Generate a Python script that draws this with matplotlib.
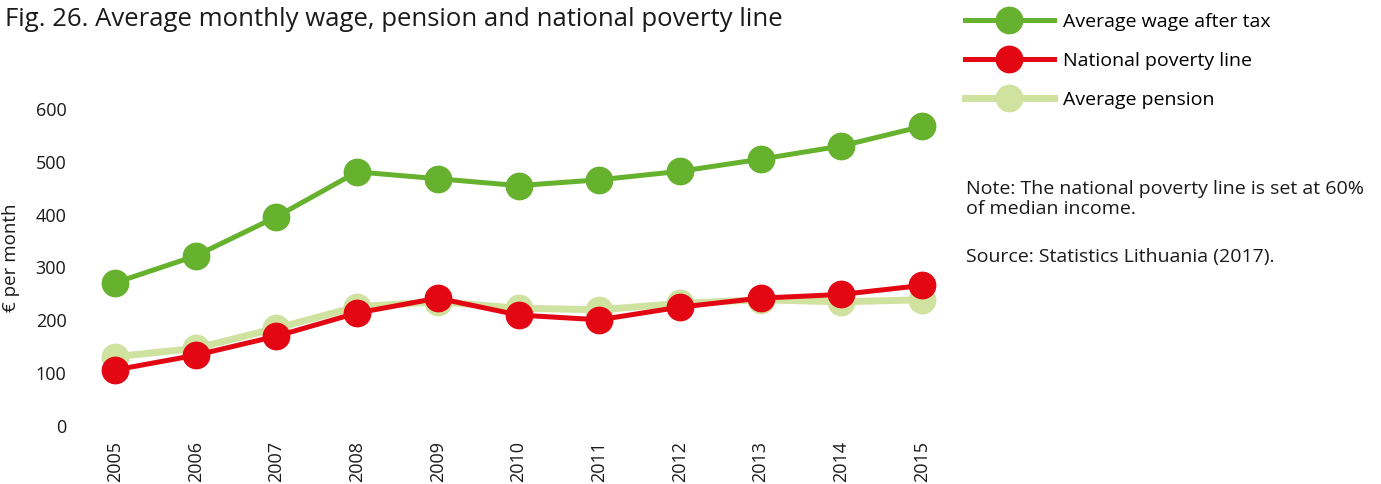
import matplotlib
matplotlib.use("Agg")
import matplotlib.pyplot as plt

plt.rcParams['font.family'] = ['Open Sans', 'DejaVu Sans']

years = [2005, 2006, 2007, 2008, 2009, 2010, 2011, 2012, 2013, 2014, 2015]
wage = [271, 322, 396, 481, 468, 455, 466, 482, 505, 530, 567]
poverty = [106, 134, 170, 214, 242, 210, 201, 225, 242, 249, 266]
pension = [131, 147, 185, 226, 235, 223, 220, 232, 239, 235, 239]

green = '#66b22e'
red = '#e30613'
pale = '#cfe2a0'
txt = '#1a1a1a'

fig = plt.figure(figsize=(13.81, 4.84), dpi=100)
ax = fig.add_axes([115/1381, 1 - 426/484, (922 - 115)/1381, (426 - 109)/484])

ax.plot(years, wage, '-o', color=green, lw=3.6, ms=19, clip_on=False,
        label='Average wage after tax', zorder=4)
ax.plot(years, pension, '-o', color=pale, lw=5, ms=19, clip_on=False,
        label='Average pension', zorder=2)
ax.plot(years, poverty, '-o', color=red, lw=3.6, ms=19, clip_on=False,
        label='National poverty line', zorder=3)

ax.set_xlim(2005, 2015)
ax.set_ylim(0, 600)
ax.set_yticks(range(0, 601, 100))
ax.set_xticks(years)
ax.set_xticklabels([str(y) for y in years], rotation=90)
for s in ax.spines.values():
    s.set_visible(False)
ax.tick_params(length=0, labelsize=13, colors=txt)
ax.tick_params(axis='y', pad=35)
ax.tick_params(axis='x', pad=11)
ax.set_ylabel('€ per month', fontsize=13.5, color=txt, labelpad=7)
ax.yaxis.set_label_coords(-0.118, 0.53)

h, l = ax.get_legend_handles_labels()
order = [0, 2, 1]
fig.legend([h[i] for i in order], [l[i] for i in order], loc='upper left',
           bbox_to_anchor=(947/1381, 1 + 5/484), frameon=False, fontsize=14,
           handlelength=4.6, labelspacing=1.1, handletextpad=0.45)

fig.text(5/1381, 1 - 20/484, 'Fig. 26. Average monthly wage, pension and national poverty line',
         fontsize=18.5, va='center', ha='left', color=txt)
fig.text(966/1381, 1 - 199/484,
         'Note: The national poverty line is set at 60%\nof median income.',
         fontsize=14, va='center', ha='left', color=txt, linespacing=1.15)
fig.text(966/1381, 1 - 257/484, 'Source: Statistics Lithuania (2017).',
         fontsize=14, va='center', ha='left', color=txt)

fig.savefig('out.png', dpi=100)
